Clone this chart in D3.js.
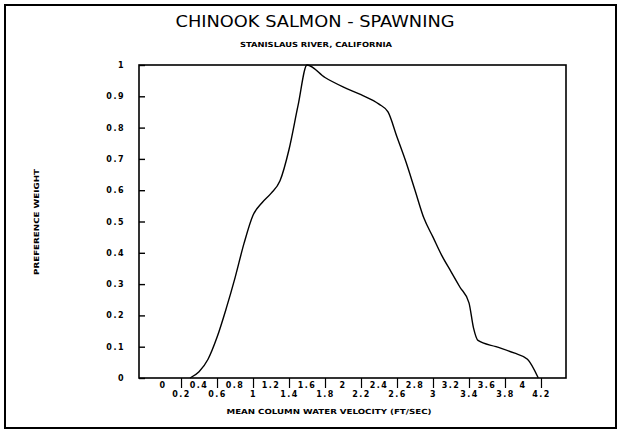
<!DOCTYPE html>
<html><head><meta charset="utf-8">
<script src="https://cdn.jsdelivr.net/npm/d3@7"></script>
<style>body{margin:0;background:#fff}svg{display:block}text{fill:#000}</style>
</head><body><svg id="c" width="618" height="433"></svg>
<script>
const title = "CHINOOK SALMON - SPAWNING";
const subtitle = "STANISLAUS RIVER, CALIFORNIA";
const xTitle = "MEAN COLUMN WATER VELOCITY (FT/SEC)";
const yTitle = "PREFERENCE WEIGHT";
const velocity = [0.3,0.4,0.5,0.6,0.7,0.8,0.9,1.0,1.1,1.2,1.3,1.4,1.5,1.6,1.8,2.0,2.2,2.4,2.5,2.6,2.7,2.8,2.9,3.0,3.1,3.2,3.3,3.4,3.45,3.5,3.7,3.9,4.05,4.17];
const weight   = [0,0.02,0.06,0.13,0.22,0.32,0.43,0.52,0.56,0.59,0.63,0.73,0.87,1.0,0.96,0.93,0.905,0.875,0.85,0.77,0.69,0.60,0.51,0.45,0.39,0.34,0.29,0.24,0.16,0.12,0.10,0.08,0.06,0];
const xTicksLower = [0.2,0.6,1.0,1.4,1.8,2.2,2.6,3.0,3.4,3.8,4.2];
const xLabelsLower = ["0.2","0.6","1","1.4","1.8","2.2","2.6","3","3.4","3.8","4.2"];
const xLabelsUpper = ["0","0.4","0.8","1.2","1.6","2","2.4","2.8","3.2","3.6","4"];
const xUpperVals = [0,0.4,0.8,1.2,1.6,2.0,2.4,2.8,3.2,3.6,4.0];
const yTicks = [0,0.1,0.2,0.3,0.4,0.5,0.6,0.7,0.8,0.9,1];
const yLabels = ["0","0.1","0.2","0.3","0.4","0.5","0.6","0.7","0.8","0.9","1"];

const svg = d3.select("#c");
const L=139,R=566,T=65,B=378;
const x = d3.scaleLinear().domain([-0.267,4.478]).range([L,R]);
const y = d3.scaleLinear().domain([0,1]).range([B,T]);

// outer frame
svg.append("rect").attr("x",5).attr("y",5).attr("width",611).attr("height",423)
  .attr("fill","none").attr("stroke","#000").attr("stroke-width",2);

// plot box
svg.append("rect").attr("x",L).attr("y",T).attr("width",R-L).attr("height",B-T)
  .attr("fill","none").attr("stroke","#000").attr("stroke-width",1.6);

const bf = "'DejaVu Sans', sans-serif";
// y axis ticks (inward)
const yAxis = d3.axisLeft(y).tickValues(yTicks).tickSizeInner(-6).tickSizeOuter(0)
  .tickPadding(14).tickFormat((d,i)=>yLabels[i]);
const gy = svg.append("g").attr("transform",`translate(${L},0)`).call(yAxis);
gy.select(".domain").remove();
gy.selectAll(".tick line").attr("stroke","#000").attr("stroke-width",1.4);
gy.selectAll(".tick text").attr("font-family",bf).attr("font-weight","bold")
  .attr("font-size",8).attr("letter-spacing",1.5).attr("fill","#000");

// x axis: ticks at lower-label positions
const xAxis = d3.axisBottom(x).tickValues(xTicksLower).tickSizeInner(10).tickSizeOuter(0)
  .tickPadding(3).tickFormat((d,i)=>xLabelsLower[i]);
const gx = svg.append("g").attr("transform",`translate(0,${B})`).call(xAxis);
gx.select(".domain").remove();
gx.selectAll(".tick line").attr("stroke","#000").attr("stroke-width",1.2);
gx.selectAll(".tick text").attr("font-family",bf).attr("font-weight","bold")
  .attr("font-size",8).attr("letter-spacing",1.5).attr("dy","0.71em");
// upper row labels
svg.append("g").selectAll("text").data(xUpperVals).join("text")
  .attr("x",d=>x(d)).attr("y",B+10).attr("text-anchor","middle")
  .attr("font-family",bf).attr("font-weight","bold").attr("font-size",8).attr("letter-spacing",1.5)
  .text((d,i)=>xLabelsUpper[i]);

// curve
const line = d3.line().x((d,i)=>x(velocity[i])).y((d,i)=>y(weight[i])).curve(d3.curveMonotoneX);
svg.append("path").datum(weight).attr("d",line).attr("fill","none")
  .attr("stroke","#000").attr("stroke-width",1.4);

// titles
svg.append("text").attr("x",315).attr("y",27).attr("text-anchor","middle")
  .attr("font-family","'DejaVu Sans', sans-serif").attr("font-size",16)
  .attr("textLength",279).attr("lengthAdjust","spacingAndGlyphs").text(title);
svg.append("text").attr("x",316).attr("y",47).attr("text-anchor","middle")
  .attr("font-family",bf).attr("font-weight","bold").attr("font-size",7)
  .attr("textLength",152).attr("lengthAdjust","spacingAndGlyphs").text(subtitle);
svg.append("text").attr("x",329).attr("y",414).attr("text-anchor","middle")
  .attr("font-family",bf).attr("font-weight","bold").attr("font-size",7)
  .attr("textLength",205).attr("lengthAdjust","spacingAndGlyphs").text(xTitle);
svg.append("text").attr("transform","translate(39,222) rotate(-90)").attr("text-anchor","middle")
  .attr("font-family",bf).attr("font-weight","bold").attr("font-size",7)
  .attr("textLength",106).attr("lengthAdjust","spacingAndGlyphs").text(yTitle);
</script></body></html>
